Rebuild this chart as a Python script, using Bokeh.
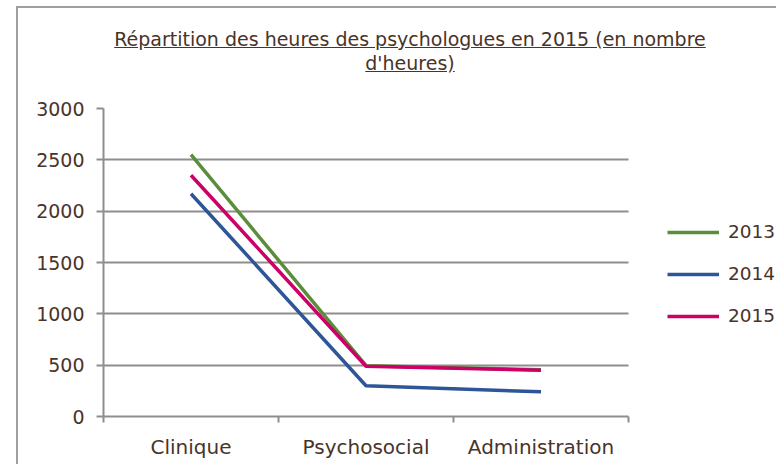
from bokeh.plotting import figure
from bokeh.models import Range1d, FixedTicker, Legend, LegendItem, Div
from bokeh.layouts import column
from bokeh.embed import file_html
from bokeh.resources import INLINE

categories = ["Clinique", "Psychosocial", "Administration"]
years = ["2013", "2014", "2015"]
v2013 = [2550, 495, 455]
v2014 = [2170, 300, 240]
v2015 = [2350, 490, 450]
y_ticks = [0, 500, 1000, 1500, 2000, 2500, 3000]
title_line1 = "Répartition des heures des psychologues en 2015 (en nombre"
title_line2 = "d'heures)"

colors = ["#5b8e3b", "#2e5597", "#cc0066"]
text_color = "#4a3328"
font = "DejaVu Sans"
gray = "#8e8e8e"

n = len(categories)
xs = [i + 0.5 for i in range(n)]
bounds = [float(i) for i in range(n + 1)]

W, H = 758, 372
left, top, bottom = 85, 16, 48
plot_px = 525                      # pixel width of the category area
frame_px = W - left                # frame extends to the right edge (room for legend)
x_end = n * frame_px / plot_px

p = figure(width=W, height=H, output_backend="svg", toolbar_location=None,
           x_range=Range1d(0, x_end), y_range=Range1d(0, 3000),
           min_border_left=left, min_border_right=0, min_border_top=top, min_border_bottom=bottom)
p.outline_line_color = None
p.background_fill_color = "white"
p.border_fill_color = "white"

renderers = []
for vals, c in zip([v2013, v2014, v2015], colors):
    r = p.line(xs, vals, line_color=c, line_width=3.5)
    renderers.append(r)

# x axis
p.xaxis.bounds = (0, n)
p.xaxis.ticker = FixedTicker(ticks=xs, minor_ticks=bounds)
p.xaxis.major_label_overrides = {x: c for x, c in zip(xs, categories)}
p.xaxis.major_tick_out = 0
p.xaxis.major_tick_in = 0
p.xaxis.minor_tick_out = 6
p.xaxis.minor_tick_in = 0
p.xaxis.minor_tick_line_color = gray
p.xaxis.minor_tick_line_width = 2
p.xaxis.axis_line_color = gray
p.xaxis.axis_line_width = 2
p.xaxis.major_label_standoff = 12
p.xaxis.major_label_text_font = font
p.xaxis.major_label_text_font_size = "20px"
p.xaxis.major_label_text_color = text_color
p.xgrid.visible = False

# y axis
p.yaxis.ticker = FixedTicker(ticks=y_ticks)
p.yaxis.minor_tick_line_color = None
p.yaxis.major_tick_out = 7
p.yaxis.major_tick_in = 0
p.yaxis.major_tick_line_color = gray
p.yaxis.major_tick_line_width = 2
p.yaxis.axis_line_color = gray
p.yaxis.axis_line_width = 2
p.yaxis.major_label_standoff = 12
p.yaxis.major_label_text_font = font
p.yaxis.major_label_text_font_size = "19px"
p.yaxis.major_label_text_color = text_color
p.ygrid.grid_line_color = gray
p.ygrid.grid_line_width = 2
p.ygrid.cross_bounds = (0, n)

legend = Legend(items=[LegendItem(label=y, renderers=[r]) for y, r in zip(years, renderers)],
                location=(564, 90), orientation="vertical")
legend.glyph_width = 52
legend.glyph_height = 20
legend.label_height = 20
legend.spacing = 21
legend.label_standoff = 9
legend.padding = 0
legend.margin = 0
legend.border_line_color = None
legend.background_fill_alpha = 0
legend.label_text_font = font
legend.label_text_font_size = "18.5px"
legend.label_text_color = text_color
p.add_layout(legend, "center")

title = Div(
    text=('<div style="box-sizing:border-box;width:%dpx;padding-left:16px;text-align:center;'
          'font-family:\'DejaVu Sans\';font-size:19px;line-height:24px;color:%s;'
          'text-decoration:underline;padding-top:14px;">%s<br>%s</div>'
          % (W, text_color, title_line1, title_line2)),
    width=W, height=74)

layout = column(title, p, styles={"border-top": "2px solid #a0a0a0",
                                  "border-left": "2px solid #a0a0a0",
                                  "margin-left": "16px",
                                  "margin-top": "6px",
                                  "background-color": "white"})

open("out.html", "w").write(file_html(layout, INLINE))
